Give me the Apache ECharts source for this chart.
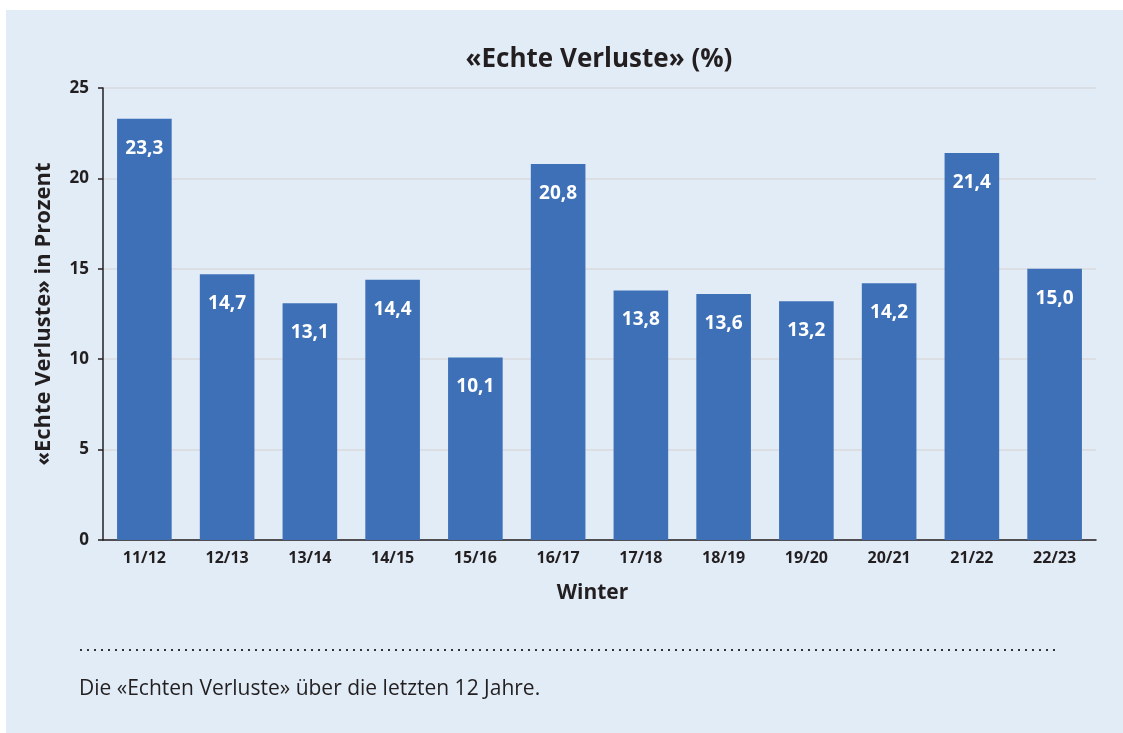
<!DOCTYPE html>
<html>
<head>
<meta charset="utf-8">
<script src="https://cdn.jsdelivr.net/npm/echarts@6/dist/echarts.min.js"></script>
<style>
  html, body { margin: 0; padding: 0; background: #fff; }
  #chart { width: 1123px; height: 733px; }
</style>
</head>
<body>
<div id="chart"></div>
<script>
var winters = ['11/12', '12/13', '13/14', '14/15', '15/16', '16/17', '17/18', '18/19', '19/20', '20/21', '21/22', '22/23'];
var verluste = [23.3, 14.7, 13.1, 14.4, 10.1, 20.8, 13.8, 13.6, 13.2, 14.2, 21.4, 15.0];
var yTicks = [0, 5, 10, 15, 20, 25];

var textColor = '#231f20';
var fontFam = '"Open Sans", Lato, sans-serif';

var chart = echarts.init(document.getElementById('chart'));
var option = {
    backgroundColor: '#ffffff',
    textStyle: { fontFamily: fontFam },
    title: {
        text: '«Echte Verluste» (%)',
        left: 594,
        textAlign: 'center',
        top: 42,
        textStyle: { fontFamily: fontFam, fontSize: 26, fontWeight: 'bold', color: textColor }
    },
    graphic: [
        {
            type: 'rect', z: -10, silent: true,
            shape: { x: 6, y: 10, width: 1117, height: 723 },
            style: { fill: '#e1ecf7' }
        },
        {
            type: 'line', silent: true,
            shape: { x1: 80, y1: 650, x2: 1058, y2: 650 },
            style: { stroke: '#333', lineWidth: 2, lineDash: [2, 5] }
        },
        {
            type: 'text', silent: true,
            left: 79, top: 679,
            style: { text: 'Die «Echten Verluste» über die letzten 12 Jahre.', fontFamily: fontFam, fontSize: 21, fill: textColor }
        }
    ],
    grid: { left: 103, right: 27, top: 88, bottom: 193 },
    xAxis: {
        type: 'category',
        data: winters,
        name: 'Winter',
        nameLocation: 'middle',
        nameGap: 43,
        nameTextStyle: { fontFamily: fontFam, fontSize: 21, fontWeight: 'bold', color: textColor, padding: [0, 14, 0, 0] },
        axisLine: { lineStyle: { color: textColor, width: 1.5 } },
        axisTick: { show: false },
        axisLabel: { margin: 10, fontFamily: fontFam, fontSize: 16, fontWeight: 'bold', color: textColor }
    },
    yAxis: {
        type: 'value',
        min: yTicks[0],
        max: yTicks[yTicks.length - 1],
        interval: 5,
        name: '«Echte Verluste» in Prozent',
        nameLocation: 'middle',
        nameGap: 48,
        nameTextStyle: { fontFamily: fontFam, fontSize: 22, fontWeight: 'bold', color: textColor },
        axisLine: { show: true, lineStyle: { color: textColor, width: 1.5 } },
        axisTick: { show: true, length: 5, lineStyle: { color: textColor, width: 1.5 } },
        splitLine: { lineStyle: { color: '#d8dadc', width: 1.5 } },
        axisLabel: { margin: 14, fontFamily: fontFam, fontSize: 17, fontWeight: 'bold', color: textColor }
    },
    series: [{
        type: 'bar',
        data: verluste,
        barWidth: '66%',
        itemStyle: { color: '#3e70b8' },
        label: {
            show: true,
            position: 'insideTop',
            distance: 20,
            fontFamily: fontFam,
            fontSize: 19,
            fontWeight: 'bold',
            color: '#ffffff',
            formatter: function (p) { return p.value.toFixed(1).replace('.', ','); }
        }
    }]
};
chart.setOption(option);
</script>
</body>
</html>
